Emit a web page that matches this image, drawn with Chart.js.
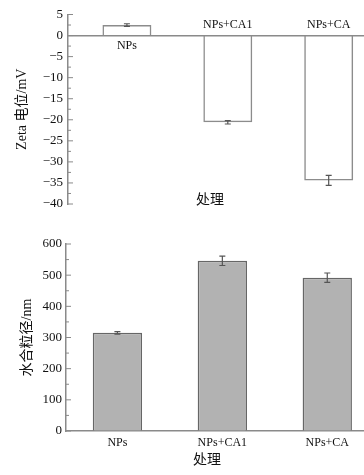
<!DOCTYPE html>
<html><head><meta charset="utf-8">
<script src="https://cdn.jsdelivr.net/npm/chart.js@4.4.1/dist/chart.umd.min.js"></script>
<style>
html,body{margin:0;padding:0;background:#fff;}
#wrap{position:relative;width:364px;height:475px;overflow:hidden;}
canvas{position:absolute;left:0;}
</style></head><body>
<div id="wrap">
<canvas id="c1" width="364" height="240" style="top:0"></canvas>
<canvas id="c2" width="364" height="247" style="top:228px"></canvas>
</div>
<script>
// ---- data ----
const categories = ['NPs', 'NPs+CA1', 'NPs+CA'];
const zetaValues = [2.5, -20.6, -34.4];
const zetaErrors = [0.3, 0.4, 1.2];
const sizeValues = [315, 546, 492];
const sizeErrors = [4, 15, 15];
const zetaTicks = [5, 0, -5, -10, -15, -20, -25, -30, -35, -40];
const sizeTicks = [0, 100, 200, 300, 400, 500, 600];
const xTitle = '处理';
const zetaTitle = 'Zeta 电位/mV';
const sizeTitle = '水合粒径/nm';

const FAM = '"Liberation Serif", "Times New Roman", "Noto Sans CJK SC", serif';
const AXIS = '#8a8a8a';
const TXT = '#111';

function fmt(v) { return v < 0 ? '\u2212' + Math.abs(v) : String(v); }

const innerTicks = {
  id: 'innerTicks',
  afterDatasetsDraw(chart) {
    const ys = chart.scales.y, ctx = chart.ctx, x0 = chart.chartArea.left;
    const vals = ys.ticks.map(t => t.value).sort((a, b) => a - b);
    ctx.save();
    ctx.strokeStyle = AXIS; ctx.lineWidth = 1;
    vals.forEach((v, i) => {
      const py = ys.getPixelForValue(v);
      ctx.beginPath(); ctx.moveTo(x0, py); ctx.lineTo(x0 + 5, py); ctx.stroke();
      if (i < vals.length - 1) {
        const pm = ys.getPixelForValue((v + vals[i + 1]) / 2);
        ctx.beginPath(); ctx.moveTo(x0, pm); ctx.lineTo(x0 + 3, pm); ctx.stroke();
      }
    });
    ctx.restore();
  }
};

const errorBars = {
  id: 'errorBars',
  afterDatasetsDraw(chart, args, opts) {
    const ys = chart.scales.y, ctx = chart.ctx;
    const meta = chart.getDatasetMeta(0);
    const vals = opts.values, errs = opts.errors;
    ctx.save();
    ctx.strokeStyle = '#555'; ctx.lineWidth = 1.2;
    meta.data.forEach((bar, i) => {
      const x = bar.x;
      const y1 = ys.getPixelForValue(vals[i] + errs[i]);
      const y2 = ys.getPixelForValue(vals[i] - errs[i]);
      ctx.beginPath();
      ctx.moveTo(x, y1); ctx.lineTo(x, y2);
      ctx.moveTo(x - 3, y1); ctx.lineTo(x + 3, y1);
      ctx.moveTo(x - 3, y2); ctx.lineTo(x + 3, y2);
      ctx.stroke();
    });
    ctx.restore();
  }
};

const textLabels = {
  id: 'textLabels',
  afterDraw(chart, args, opts) {
    const ctx = chart.ctx;
    ctx.save();
    ctx.fillStyle = TXT;
    ctx.textAlign = 'center'; ctx.textBaseline = 'middle';
    if (opts.barLabels) {
      const ys = chart.scales.y;
      const zero = ys.getPixelForValue(0);
      const meta = chart.getDatasetMeta(0);
      ctx.font = '12px ' + FAM;
      meta.data.forEach((bar, i) => {
        const v = opts.values[i];
        ctx.fillText(categories[i], bar.x, v >= 0 ? zero + 10 : zero - 10.5);
      });
    }
    ctx.font = '14px ' + FAM;
    ctx.fillText(xTitle, opts.titleX, opts.titleY);
    ctx.restore();
  }
};

// ---- top chart: zeta potential ----
new Chart(document.getElementById('c1'), {
  type: 'bar',
  data: {
    datasets: [{
      data: categories.map((c, i) => ({ x: i + 1, y: zetaValues[i] })),
      backgroundColor: 'rgba(255,255,255,0)',
      borderColor: '#8c8c8c',
      borderWidth: 1.5,
      categoryPercentage: 1,
      barPercentage: 0.485
    }]
  },
  options: {
    responsive: false, animation: false, devicePixelRatio: 1,
    layout: { padding: { left: 0, right: 0, top: 14.5, bottom: 36 } },
    plugins: {
      legend: { display: false }, tooltip: { enabled: false },
      errorBars: { values: zetaValues, errors: zetaErrors },
      textLabels: { barLabels: true, values: zetaValues, titleX: 210, titleY: 200 }
    },
    scales: {
      x: {
        type: 'linear', position: { y: 0 }, min: 0.416, max: 3.35, offset: false,
        afterBuildTicks: s => { s.ticks = categories.map((c, i) => ({ value: i + 1 })); },
        afterFit: s => { s.height = 0; },
        ticks: { display: false },
        grid: { drawOnChartArea: false, drawTicks: false, offset: false },
        border: { display: true, color: AXIS, width: 1.5, dash: [2, 1] }
      },
      y: {
        min: -40, max: 5,
        afterBuildTicks: s => { s.ticks = zetaTicks.map(v => ({ value: v })); },
        afterFit: s => { s.width = 68; },
        ticks: { callback: v => fmt(v), font: { family: FAM, size: 13 }, color: TXT, padding: 5 },
        grid: { drawOnChartArea: false, drawTicks: false },
        border: { display: true, color: AXIS, width: 1.5, dash: [2, 1] },
        title: { display: true, text: zetaTitle, font: { family: FAM, size: 14 }, color: TXT, padding: { top: 13.6, bottom: 0 } }
      }
    }
  },
  plugins: [innerTicks, errorBars, textLabels]
});

// ---- bottom chart: hydrodynamic size ----
new Chart(document.getElementById('c2'), {
  type: 'bar',
  data: {
    datasets: [{
      data: categories.map((c, i) => ({ x: i + 1, y: sizeValues[i] })),
      backgroundColor: '#b2b2b2',
      borderColor: '#666',
      borderWidth: 1.5,
      categoryPercentage: 1,
      barPercentage: 0.47
    }]
  },
  options: {
    responsive: false, animation: false, devicePixelRatio: 1,
    layout: { padding: { left: 0, right: 0, top: 16, bottom: 0 } },
    plugins: {
      legend: { display: false }, tooltip: { enabled: false },
      errorBars: { values: sizeValues, errors: sizeErrors },
      textLabels: { barLabels: false, titleX: 207, titleY: 232 }
    },
    scales: {
      x: {
        type: 'linear', position: 'bottom', min: 0.51, max: 3.35, offset: false,
        afterBuildTicks: s => { s.ticks = categories.map((c, i) => ({ value: i + 1 })); },
        afterFit: s => { s.height = 44; },
        ticks: { callback: v => categories[Math.round(v) - 1] || '', font: { family: FAM, size: 12 }, color: TXT, padding: 5, maxRotation: 0 },
        grid: { drawOnChartArea: false, drawTicks: false, offset: false },
        border: { display: true, color: AXIS, width: 1.5, dash: [2, 1] }
      },
      y: {
        min: 0, max: 600,
        afterBuildTicks: s => { s.ticks = sizeTicks.map(v => ({ value: v })); },
        afterFit: s => { s.width = 66; },
        ticks: { callback: v => fmt(v), font: { family: FAM, size: 13 }, color: TXT, padding: 4 },
        grid: { drawOnChartArea: false, drawTicks: false },
        border: { display: true, color: AXIS, width: 1.5, dash: [2, 1] },
        title: { display: true, text: sizeTitle, font: { family: FAM, size: 14 }, color: TXT, padding: { top: 18.6, bottom: 0 } }
      }
    }
  },
  plugins: [innerTicks, errorBars, textLabels]
});
</script>
</body></html>
